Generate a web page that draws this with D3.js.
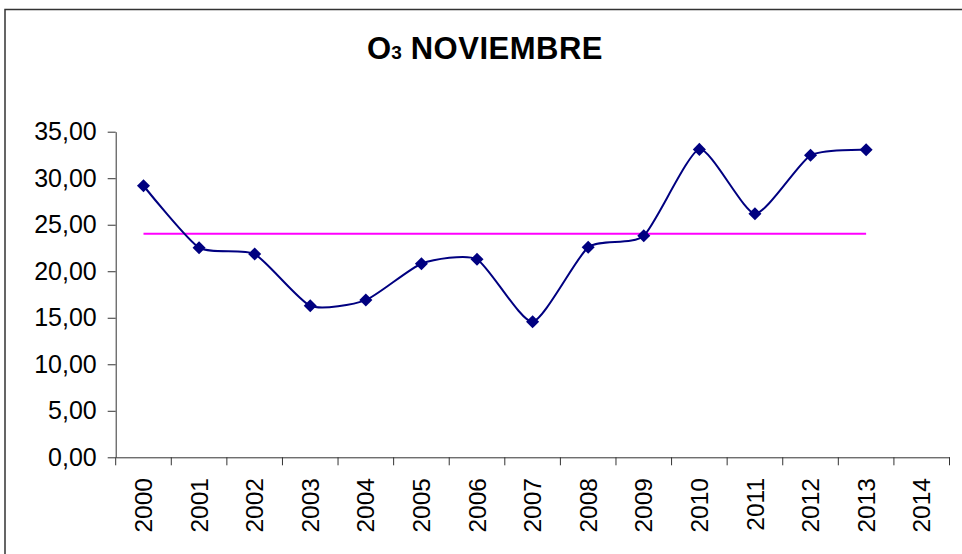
<!DOCTYPE html>
<html>
<head>
<meta charset="utf-8">
<script src="https://cdn.jsdelivr.net/npm/d3@7"></script>
<style>
  body { margin: 0; background: #fff; }
  svg { display: block; font-family: "Liberation Sans", Arial, sans-serif; }
</style>
</head>
<body>
<div class="chart"></div>
<script>
// data
const years = ["2000","2001","2002","2003","2004","2005","2006","2007","2008","2009","2010","2011","2012","2013","2014"];
const o3Values = [29.19, 22.53, 21.85, 16.29, 16.90, 20.81, 21.28, 14.57, 22.57, 23.82, 33.10, 26.18, 32.46, 33.06];
const meanValues = [24.03, 24.03, 24.03, 24.03, 24.03, 24.03, 24.03, 24.03, 24.03, 24.03, 24.03, 24.03, 24.03, 24.03];
const yTicks = [0, 5, 10, 15, 20, 25, 30, 35];

const W = 962, H = 554;
const svg = d3.select(".chart")
    .append("svg")
    .attr("width", W)
    .attr("height", H);

svg.append("rect").attr("width", W).attr("height", H).attr("fill", "#fff");

// outer frame (runs off the right and bottom edges)
svg.append("rect")
    .attr("x", 5).attr("y", 9.5)
    .attr("width", 1000).attr("height", 700)
    .attr("fill", "none")
    .attr("stroke", "#333")
    .attr("stroke-width", 1.5);

// title
const title = svg.append("text")
    .attr("x", 367).attr("y", 59)
    .attr("font-weight", "bold")
    .attr("fill", "#000");
title.append("tspan").attr("font-size", 31).text("O");
title.append("tspan").attr("font-size", 19).text("3");
title.append("tspan").attr("font-size", 31).attr("dx", 9).attr("letter-spacing", 0.5).text("NOVIEMBRE");

// scales
const x = d3.scaleBand()
    .domain(years)
    .range([115.7, 949.5])
    .padding(0);
const y = d3.scaleLinear()
    .domain([0, 35])
    .range([457.3, 131.7]);
const cx = d => x(d) + x.bandwidth() / 2;

// y axis
const fmt = v => d3.format(".2f")(v).replace(".", ",");
const yAxis = svg.append("g")
    .attr("transform", "translate(115.7,0)")
    .call(d3.axisLeft(y).tickValues(yTicks).tickSize(8).tickPadding(11).tickFormat(fmt).tickSizeOuter(0));
yAxis.select(".domain").attr("stroke", "#333");
yAxis.selectAll(".tick line").attr("stroke", "#333");
yAxis.selectAll("text")
    .attr("font-size", 25)
    .attr("font-family", "Liberation Sans, Arial, sans-serif")
    .attr("fill", "#000");

// x axis: labels at band centres, ticks on band edges
const xAxis = svg.append("g")
    .attr("transform", "translate(0,457.3)")
    .call(d3.axisBottom(x).tickSize(0).tickSizeOuter(0));
xAxis.select(".domain").attr("stroke", "#333");
xAxis.selectAll("text")
    .attr("font-size", 24.5)
    .attr("font-family", "Liberation Sans, Arial, sans-serif")
    .attr("fill", "#000")
    .attr("text-anchor", "end")
    .attr("transform", "rotate(-90)")
    .attr("x", -20.7)
    .attr("y", 0)
    .attr("dy", "0.35em");
xAxis.selectAll(".edge")
    .data(years.map(d => x(d)).concat([x.range()[1]]))
    .join("line")
    .attr("class", "edge")
    .attr("x1", d => d).attr("x2", d => d)
    .attr("y1", 0).attr("y2", 8)
    .attr("stroke", "#333");

// mean line
const meanLine = d3.line()
    .x((d, i) => cx(years[i]))
    .y(d => y(d));
svg.append("path")
    .datum(meanValues)
    .attr("d", meanLine)
    .attr("fill", "none")
    .attr("stroke", "#ff00ff")
    .attr("stroke-width", 2);

// smoothed O3 series
const o3Line = d3.line()
    .x((d, i) => cx(years[i]))
    .y(d => y(d))
    .curve(d3.curveCardinal.tension(0.4));
svg.append("path")
    .datum(o3Values)
    .attr("d", o3Line)
    .attr("fill", "none")
    .attr("stroke", "#000080")
    .attr("stroke-width", 2);

// diamond markers
const diamond = d3.symbol().type(d3.symbolSquare).size(85);
svg.selectAll(".marker")
    .data(o3Values)
    .join("path")
    .attr("class", "marker")
    .attr("d", diamond)
    .attr("transform", (d, i) => `translate(${cx(years[i])},${y(d)}) rotate(45)`)
    .attr("fill", "#000080");
</script>
</body>
</html>
